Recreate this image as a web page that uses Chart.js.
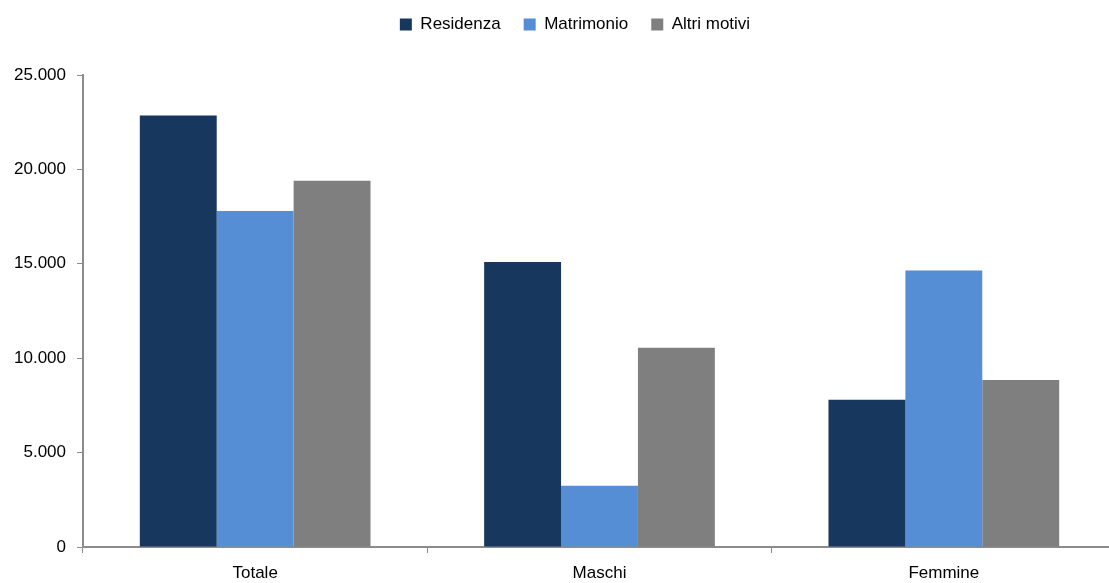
<!DOCTYPE html>
<html>
<head>
<meta charset="utf-8">
<script src="https://cdn.jsdelivr.net/npm/chart.js@4"></script>
<style>
  html, body { margin: 0; padding: 0; background: #fff; }
  #wrap { width: 1109px; height: 583px; overflow: hidden; }
</style>
</head>
<body>
<div id="wrap"><canvas id="chart" width="1116" height="583"></canvas></div>
<script>
const categories = ["Totale", "Maschi", "Femmine"];
const residenza = [22850, 15100, 7800];
const matrimonio = [17800, 3250, 14650];
const altriMotivi = [19400, 10550, 8850];
const yTicks = [0, 5000, 10000, 15000, 20000, 25000];

function fmt(v) {
  return v.toString().replace(/\B(?=(\d{3})+(?!\d))/g, ".");
}

const axisColor = "#8c8c8c";
const font = { family: "Liberation Sans", size: 17 };

// extra room under the legend, and nudge the legend itself a little
const legendGap = {
  id: "legendGap",
  beforeInit(chart) {
    const lg = chart.legend;
    const fit = lg.fit;
    lg.fit = function () {
      fit.call(this);
      this.height += 23;
    };
    const draw = lg.draw;
    lg.draw = function () {
      const ctx = this.ctx;
      ctx.save();
      ctx.translate(17, -9);
      draw.call(this);
      ctx.restore();
    };
  }
};

new Chart(document.getElementById("chart"), {
  type: "bar",
  data: {
    labels: categories,
    datasets: [
      { label: "Residenza", data: residenza, backgroundColor: "#17375e" },
      { label: "Matrimonio", data: matrimonio, backgroundColor: "#558ed5" },
      { label: "Altri motivi", data: altriMotivi, backgroundColor: "#7f7f7f" }
    ]
  },
  plugins: [legendGap],
  options: {
    responsive: false,
    animation: false,
    layout: { padding: { top: 2, right: 0, left: 0, bottom: 0 } },
    datasets: { bar: { categoryPercentage: 0.67, barPercentage: 1 } },
    plugins: {
      tooltip: { enabled: false },
      legend: {
        position: "top",
        labels: {
          font: font,
          color: "#000",
          boxWidth: 12,
          boxHeight: 12,
          padding: 23
        }
      }
    },
    scales: {
      x: {
        offset: true,
        grid: { offset: true, drawOnChartArea: false, drawTicks: true, tickLength: 6, color: axisColor },
        border: { color: axisColor, width: 2 },
        ticks: { font: font, color: "#000", padding: 10 },
        afterFit(s) { s.height = 36; }
      },
      y: {
        min: 0,
        max: 25000,
        afterBuildTicks(s) { s.ticks = yTicks.map(v => ({ value: v })); },
        grid: { drawOnChartArea: false, drawTicks: true, tickLength: 6, color: axisColor },
        border: { color: axisColor, width: 2 },
        ticks: {
          font: font,
          color: "#000",
          padding: 11,
          callback: v => fmt(v)
        },
        afterFit(s) { s.width = 83; }
      }
    }
  }
});
</script>
</body>
</html>
